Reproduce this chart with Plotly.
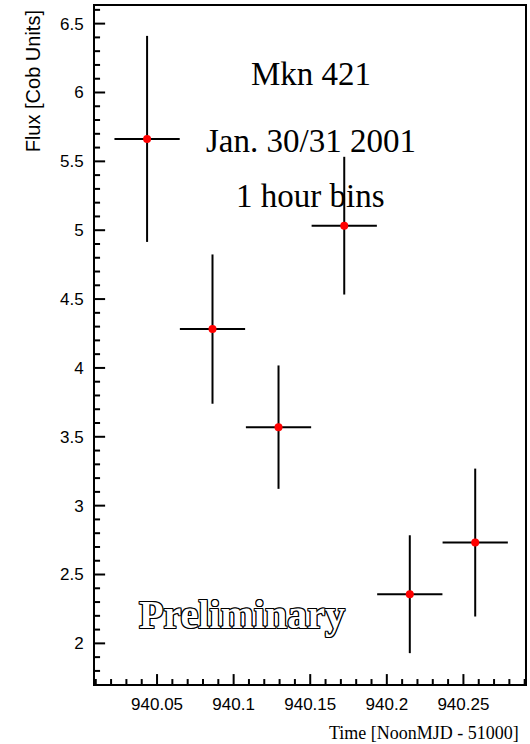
import plotly.graph_objects as go

# ---- data ----
time_mjd = [940.0435, 940.0862, 940.1293, 940.1722, 940.2150, 940.2577]
flux = [5.663, 4.282, 3.570, 5.033, 2.357, 2.732]
flux_err = [0.748, 0.542, 0.448, 0.500, 0.428, 0.537]
time_halfbin = [0.0213] * 6

x_ticks = [940.05, 940.10, 940.15, 940.20, 940.25]
x_ticktext = ["940.05", "940.1", "940.15", "940.2", "940.25"]
x_minor = [940.01, 940.02, 940.03, 940.04, 940.06, 940.07, 940.08, 940.09,
           940.11, 940.12, 940.13, 940.14, 940.16, 940.17, 940.18, 940.19,
           940.21, 940.22, 940.23, 940.24, 940.26, 940.27, 940.28, 940.29]
y_ticks = [2, 2.5, 3, 3.5, 4, 4.5, 5, 5.5, 6, 6.5]
y_minor = [1.8, 1.9, 2.1, 2.2, 2.3, 2.4, 2.6, 2.7, 2.8, 2.9, 3.1, 3.2, 3.3, 3.4,
           3.6, 3.7, 3.8, 3.9, 4.1, 4.2, 4.3, 4.4, 4.6, 4.7, 4.8, 4.9, 5.1, 5.2,
           5.3, 5.4, 5.6, 5.7, 5.8, 5.9, 6.1, 6.2, 6.3, 6.4, 6.6]

x_range = [940.0095, 940.2902]
y_range = [1.705, 6.628]

fig = go.Figure()
fig.add_trace(go.Scatter(
    x=time_mjd, y=flux, mode="markers",
    marker=dict(color="#ff0000", size=8, line=dict(width=0)),
    error_y=dict(type="data", array=flux_err, visible=True,
                 color="black", thickness=2, width=0),
    error_x=dict(type="data", array=time_halfbin, visible=True,
                 color="black", thickness=2, width=0),
    showlegend=False,
))

# inside tick marks, drawn one-sided from the axes (lengths ~10 px major, ~5 px minor)
def xticks_trace(vals, length):
    return go.Scatter(
        x=vals, y=[y_range[0]] * len(vals), mode="markers", cliponaxis=False,
        marker=dict(size=1, opacity=0),
        error_y=dict(type="data", symmetric=False, array=[length] * len(vals),
                     arrayminus=[0] * len(vals), color="black", thickness=2, width=0),
        hoverinfo="skip", showlegend=False)

def yticks_trace(vals, length):
    return go.Scatter(
        x=[x_range[0]] * len(vals), y=vals, mode="markers", cliponaxis=False,
        marker=dict(size=1, opacity=0),
        error_x=dict(type="data", symmetric=False, array=[length] * len(vals),
                     arrayminus=[0] * len(vals), color="black", thickness=2, width=0),
        hoverinfo="skip", showlegend=False)

fig.add_trace(xticks_trace(x_ticks, 0.072))
fig.add_trace(xticks_trace(x_minor, 0.036))
fig.add_trace(yticks_trace(y_ticks, 0.0066))
fig.add_trace(yticks_trace(y_minor, 0.0033))

tickfont = dict(family="Liberation Sans, Arial, sans-serif", size=17, color="black")

fig.update_layout(
    xaxis=dict(
        range=x_range, tickmode="array", tickvals=x_ticks, ticktext=x_ticktext,
        ticks="", showline=True, linecolor="black", linewidth=2, mirror=True,
        showgrid=False, zeroline=False, tickfont=tickfont, ticklabelstandoff=4,
    ),
    yaxis=dict(
        range=y_range, tickmode="array", tickvals=y_ticks,
        ticks="", showline=True, linecolor="black", linewidth=2, mirror=True,
        showgrid=False, zeroline=False, tickfont=tickfont, ticklabelstandoff=6,
    ),
)

serif = "Liberation Serif, Times New Roman, serif"
outline = ("1px 0 0 #000, -1px 0 0 #000, 0 1px 0 #000, 0 -1px 0 #000, "
           "1px 1px 0 #000, -1px -1px 0 #000, 1px -1px 0 #000, -1px 1px 0 #000")
annotations = [
    dict(text="Mkn 421", x=940.1504, y=6.135, xref="x", yref="y",
         showarrow=False, font=dict(family=serif, size=33, color="black")),
    dict(text="Jan. 30/31 2001", x=940.1504, y=5.65, xref="x", yref="y",
         showarrow=False, font=dict(family=serif, size=33, color="black")),
    dict(text="1 hour bins", x=940.1504, y=5.252, xref="x", yref="y",
         showarrow=False, font=dict(family=serif, size=33, color="black")),
    dict(text="Preliminary", x=940.1054, y=2.212, xref="x", yref="y",
         showarrow=False,
         font=dict(family=serif, size=40, color="white", weight="bold", shadow=outline)),
    dict(text="Time [NoonMJD - 51000]", x=0.99, y=-0.0723, xref="paper", yref="paper",
         xanchor="right", yanchor="middle", showarrow=False,
         font=dict(family=serif, size=18, color="black")),
    dict(text="Flux [Cob Units]", x=-0.1435, y=0.997, xref="paper", yref="paper",
         xanchor="center", yanchor="top", textangle=-90, showarrow=False,
         font=dict(family="Liberation Sans, Arial, sans-serif", size=20, color="black")),
]

fig.update_layout(
    width=530, height=744,
    margin=dict(l=95, r=3, t=6, b=60),
    paper_bgcolor="white", plot_bgcolor="white",
    annotations=annotations,
)

fig.write_html("out.html")
